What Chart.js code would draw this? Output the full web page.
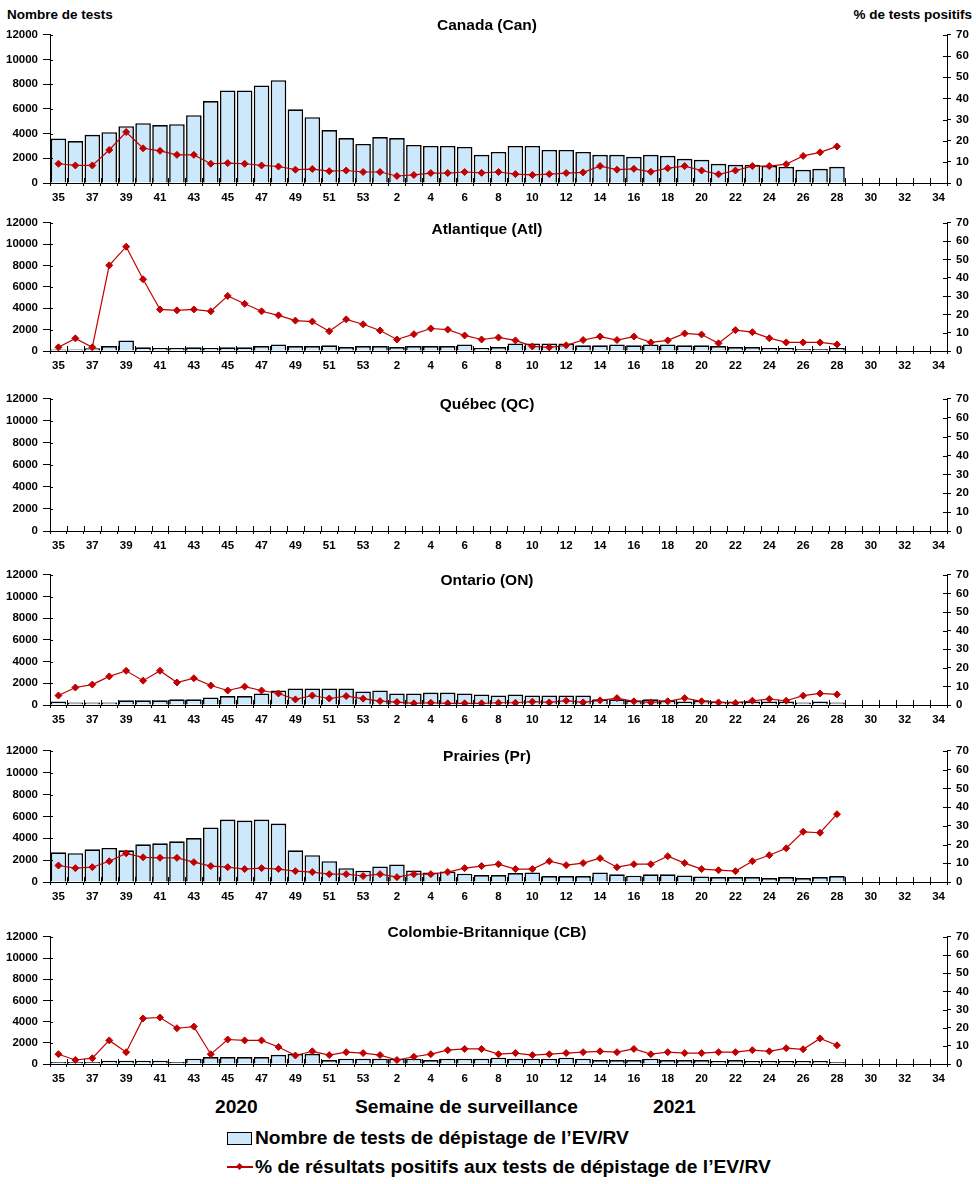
<!DOCTYPE html>
<html>
<head>
<meta charset="utf-8">
<script src="https://cdn.jsdelivr.net/npm/chart.js@4.4.1/dist/chart.umd.min.js"></script>
<style>
  body { margin: 0; background: #fff; font-family: 'Liberation Sans', Arial, sans-serif; }
  #wrap { position: relative; width: 976px; height: 1184px; overflow: hidden; background: #fff; }
  .panel { position: absolute; left: 0; }
  .txt { position: absolute; font-weight: bold; color: #000; white-space: nowrap; line-height: 1; }
  .title { font-size: 15.5px; transform: translate(-50%, -50%); left: 487px; }
  .axis-top { font-size: 13.5px; }
  .foot { font-size: 19.2px; transform: translateY(-50%); }
  .leg-box { position: absolute; left: 227px; top: 1132px; width: 23px; height: 11px; background: #cce8fa; border: 1.5px solid #000; }
  .leg-line { position: absolute; left: 227px; top: 1166px; width: 26px; height: 1.5px; background: #c00000; }
  .leg-dot { position: absolute; left: 237px; top: 1164px; width: 5px; height: 5px; background: #c00000; transform: rotate(45deg); }
</style>
</head>
<body>
<div id="wrap">
  <div class="txt axis-top" style="left:7px; top:8px;">Nombre de tests</div>
  <div class="txt axis-top" style="right:4px; top:8px;">% de tests positifs</div>

  <div class="txt foot" style="left:215px; top:1107px;">2020</div>
  <div class="txt foot" style="left:355px; top:1107px;">Semaine de surveillance</div>
  <div class="txt foot" style="left:653px; top:1107px;">2021</div>

  <div class="leg-box"></div>
  <div class="txt foot" style="left:255px; top:1138px;">Nombre de tests de dépistage de l’EV/RV</div>
  <div class="leg-line"></div>
  <div class="leg-dot"></div>
  <div class="txt foot" style="left:255px; top:1167px;">% de résultats positifs aux tests de dépistage de l’EV/RV</div>
</div>

<script>
// ---------- Data ----------
const WEEKS = ['35','36','37','38','39','40','41','42','43','44','45','46','47','48','49','50','51','52','53',
  '1','2','3','4','5','6','7','8','9','10','11','12','13','14','15','16','17','18','19','20','21','22','23','24','25','26','27','28','29','30','31','32','33','34'];

// weeks 35 (2020) .. 28 (2021)
const canTests = [3600,3400,3900,4120,4600,4850,4690,4770,5490,6640,7500,7500,7900,8330,5970,5330,4290,3640,3160,
  3720,3640,3080,3000,3000,2920,2280,2520,3000,3000,2680,2680,2520,2280,2280,2120,2280,2200,1960,1880,1550,1470,1470,1390,1310,1070,1150,1310];
const canPct = [9.1,8.3,8.3,15.6,24.1,16.4,15.2,13.3,13.3,9.1,9.4,9.1,8.3,7.8,6.3,6.6,5.6,5.9,5.2,
  5.2,3.3,3.8,4.7,4.7,5.2,4.8,5.2,4.2,3.8,4.2,4.7,5.0,8.0,6.3,6.7,5.3,7.0,8.0,5.9,4.1,5.9,8.0,8.0,8.9,12.8,14.5,17.3];

const atlTests = [150,150,250,460,990,340,280,280,340,280,340,340,460,620,460,460,530,370,460,
  460,370,460,460,460,620,280,370,710,710,710,710,530,530,620,530,620,620,530,530,460,370,370,280,280,190,190,280];
const atlPct = [2.0,6.9,2.0,46.8,57.0,39.2,22.7,22.2,22.7,21.7,30.1,25.8,21.7,19.5,16.6,16.1,10.8,17.3,14.6,
  11.2,6.3,9.2,12.3,11.7,8.5,6.3,7.4,5.8,2.5,2.0,3.1,6.0,7.9,6.0,7.9,4.7,5.8,9.6,9.0,4.2,11.4,10.3,7.0,4.7,4.7,4.7,3.6];

const qcTests = [];
const qcPct = [];

const onTests = [330,240,240,240,430,430,430,520,520,700,820,820,1060,1340,1520,1520,1520,1520,1250,
  1340,1060,1060,1150,1150,1060,970,880,970,880,880,880,880,520,520,430,520,430,330,430,330,330,330,330,330,240,330,240];
const onPct = [5.1,9.4,11.0,15.4,18.4,13.1,18.4,12.1,14.4,10.5,7.8,9.9,7.8,6.2,3.0,5.1,3.5,4.8,3.4,
  2.1,1.6,0.9,1.2,0.9,0.9,0.9,1.2,1.2,1.8,1.4,2.3,1.4,2.5,3.7,2.0,1.4,2.0,3.7,2.0,1.4,1.1,2.3,3.2,2.3,5.0,6.2,5.7];

const prTests = [2720,2630,2990,3110,2900,3450,3540,3720,4020,4990,5710,5620,5710,5350,2900,2450,1900,1270,1030,
  1420,1600,1060,880,970,760,630,630,820,880,540,540,540,880,700,570,700,700,600,510,450,450,450,360,450,360,450,540];
const prPct = [8.8,7.4,7.9,11.1,15.3,13.2,12.9,12.9,10.6,8.5,7.9,6.9,7.4,6.9,5.8,5.3,4.2,4.2,3.2,
  4.2,2.6,4.2,4.2,5.3,7.4,8.5,9.5,6.9,6.9,11.1,9.0,10.1,12.7,7.9,9.5,9.5,13.8,10.1,6.9,6.3,5.8,11.1,14.3,18.0,26.8,26.3,36.2];

const cbTests = [190,190,190,310,310,310,310,190,500,650,650,650,650,870,960,960,370,500,500,
  500,500,500,370,500,500,500,590,500,500,500,590,500,370,370,370,500,370,370,370,280,370,280,280,280,280,280,190];
const cbPct = [5.4,2.2,3.2,13.0,6.5,25.1,25.6,19.7,20.6,5.4,13.5,13.0,13.0,9.4,4.7,7.0,4.9,6.5,6.0,
  4.9,2.2,4.0,5.4,7.6,8.3,8.3,5.4,6.0,4.9,5.4,6.0,6.5,7.0,6.5,8.3,5.4,6.5,6.0,6.0,6.5,6.5,7.6,7.0,8.7,8.1,14.1,10.3];

const PANELS = [
  { title: 'Canada (Can)', top: 33, bottom: 183, titleY: 25, tests: canTests, pct: canPct },
  { title: 'Atlantique (Atl)', top: 221, bottom: 351, titleY: 229, tests: atlTests, pct: atlPct },
  { title: 'Québec (QC)', top: 397, bottom: 531, titleY: 404, tests: qcTests, pct: qcPct },
  { title: 'Ontario (ON)', top: 573, bottom: 705, titleY: 580, tests: onTests, pct: onPct },
  { title: 'Prairies (Pr)', top: 749, bottom: 882, titleY: 756, tests: prTests, pct: prPct },
  { title: 'Colombie-Britannique (CB)', top: 935, bottom: 1064, titleY: 932, tests: cbTests, pct: cbPct },
];

// ---------- Styling ----------
const RED = '#c00000';
const BLUE = '#cce8fa';
const FONT = "'Liberation Sans', Arial, sans-serif";
const tickFont = { family: FONT, size: 11.5, weight: 'bold' };

// small tick marks that cross into the plot area, like the original
const innerTicks = {
  id: 'innerTicks',
  afterDraw(chart) {
    const ctx = chart.ctx, a = chart.chartArea, n = WEEKS.length;
    ctx.save();
    ctx.strokeStyle = '#000';
    ctx.lineWidth = 1;
    ctx.beginPath();
    for (let i = 0; i <= n; i++) {
      const x = Math.round(a.left + i * (a.right - a.left) / n) + 0.5;
      ctx.moveTo(x, a.bottom);
      ctx.lineTo(x, a.bottom - 5);
    }
    const yl = chart.scales.y, yr = chart.scales.y1;
    yl.ticks.forEach((t, i) => {
      const y = Math.round(yl.getPixelForTick(i)) + 0.5;
      ctx.moveTo(a.left, y); ctx.lineTo(a.left + 3, y);
    });
    yr.ticks.forEach((t, i) => {
      const y = Math.round(yr.getPixelForTick(i)) + 0.5;
      ctx.moveTo(a.right, y); ctx.lineTo(a.right - 4, y);
    });
    ctx.stroke();
    ctx.restore();
  }
};

const wrap = document.getElementById('wrap');

PANELS.forEach(p => {
  const padTop = 10, xAxisH = 26;
  const h = p.bottom - p.top + padTop + xAxisH;

  const div = document.createElement('div');
  div.className = 'panel';
  div.style.top = (p.top - padTop) + 'px';
  const cv = document.createElement('canvas');
  cv.width = 976;
  cv.height = h;
  cv.style.width = '976px';
  cv.style.height = h + 'px';
  div.appendChild(cv);
  wrap.appendChild(div);

  const t = document.createElement('div');
  t.className = 'txt title';
  t.style.top = p.titleY + 'px';
  t.textContent = p.title;
  wrap.appendChild(t);

  new Chart(cv, {
    data: {
      labels: WEEKS,
      datasets: [
        {
          type: 'line',
          data: p.pct,
          yAxisID: 'y1',
          order: 0,
          borderColor: RED,
          borderWidth: 1.2,
          pointStyle: 'rectRot',
          pointRadius: 3.5,
          pointBackgroundColor: RED,
          pointBorderColor: RED,
          pointBorderWidth: 1,
          fill: false,
          tension: 0,
        },
        {
          type: 'bar',
          data: p.tests,
          yAxisID: 'y',
          order: 1,
          backgroundColor: BLUE,
          borderColor: '#000',
          borderWidth: 1.6,
          barPercentage: 0.92,
          categoryPercentage: 1,
        }
      ]
    },
    options: {
      responsive: false,
      animation: false,
      events: [],
      layout: { padding: { top: padTop, left: 0, right: 0, bottom: 0 } },
      plugins: { legend: { display: false }, tooltip: { enabled: false }, title: { display: false } },
      scales: {
        x: {
          grid: { display: true, drawOnChartArea: false, drawTicks: true, tickLength: 3, color: '#000', offset: true },
          border: { display: true, color: '#000', width: 1 },
          ticks: {
            autoSkip: false, maxRotation: 0, minRotation: 0, padding: 5, color: '#000', font: tickFont,
            callback: (v, i) => i % 2 === 0 ? WEEKS[i] : ''
          },
          afterFit: s => { s.height = xAxisH; }
        },
        y: {
          position: 'left',
          min: 0, max: 12000,
          ticks: { stepSize: 2000, padding: 5, color: '#000', font: tickFont, callback: v => String(v) },
          grid: { drawOnChartArea: false, tickLength: 7, color: '#000' },
          border: { display: true, color: '#000', width: 1 },
          afterFit: s => { s.width = 50; }
        },
        y1: {
          position: 'right',
          min: 0, max: 70,
          ticks: { stepSize: 10, padding: 5, color: '#000', font: tickFont, callback: v => String(v) },
          grid: { drawOnChartArea: false, tickLength: 4, color: '#000' },
          border: { display: true, color: '#000', width: 1 },
          afterFit: s => { s.width = 29; }
        }
      }
    },
    plugins: [innerTicks]
  });
});
</script>
</body>
</html>
